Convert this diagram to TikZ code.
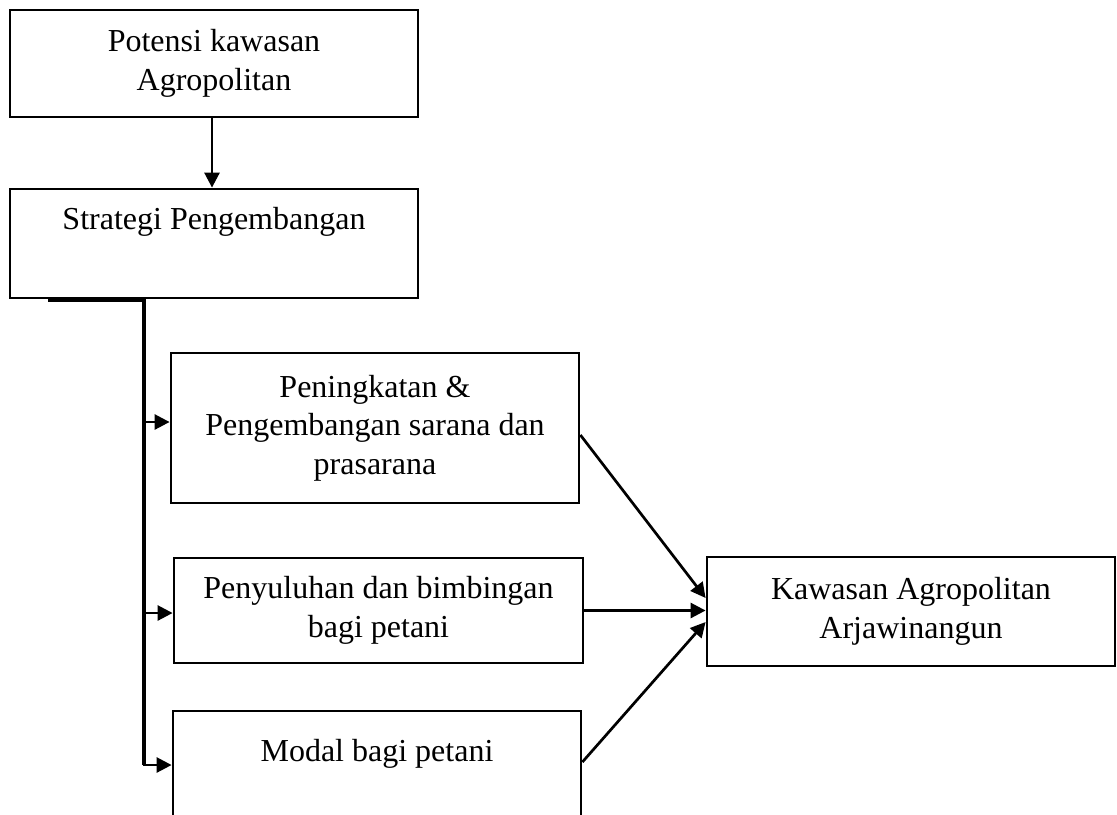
\documentclass[tikz,border=0pt]{standalone}
\usepackage{fontspec}
\setmainfont{Liberation Serif}
\usetikzlibrary{arrows.meta}
\begin{document}
\begin{tikzpicture}[x=0.5pt,y=-0.5pt,
  box/.style={draw=black,line width=1.4pt,rectangle,align=center,inner sep=0pt,
    font={\fontsize{16pt}{19.2pt}\selectfont}},
  arr/.style={line width=1.35pt,-{Triangle[length=7.5pt,width=7.5pt]}},
  trunk/.style={line width=1.9pt}]
\useasboundingbox (0,0) rectangle (1117,814);
\fill[white] (0,0) rectangle (1117,814);
\clip (0,0) rectangle (1117,814);
\node[box,minimum width=204pt,minimum height=53.5pt] (b1) at (214,63.5) {Potensi kawasan\\Agropolitan};
\node[box,minimum width=204pt,minimum height=54.5pt] (b2) at (214,243.5) {Strategi Pengembangan\\\strut};
\node[box,minimum width=204pt,minimum height=75pt] (b3) at (375,428) {Peningkatan \&\\Pengembangan sarana dan\\prasarana};
\node[box,minimum width=204.5pt,minimum height=52.5pt] (b4) at (378.5,610.5) {Penyuluhan dan bimbingan\\bagi petani};
\node[box,minimum width=204pt,minimum height=64pt] (b5) at (377,775) {Modal bagi petani\\\strut};
\node[box,minimum width=204pt,minimum height=54.5pt] (b6) at (911,611.5) {Kawasan Agropolitan\\Arjawinangun};
% top arrow
\draw[arr] ([xshift=-1pt]b1.south) -- ([xshift=-1pt]b2.north);
% trunk
\coordinate (t1) at (48,300);
\coordinate (t2) at (144,300);
\coordinate (j3) at (144,422);
\coordinate (j4) at (144,613);
\coordinate (j5) at (144,765);
\draw[trunk] (t1) -- (t2) -- (j5);
\draw[arr] (j3) -- (j3 -| b3.west);
\draw[arr] (j4) -- (j4 -| b4.west);
\draw[arr,line cap=rect] (j5) -- (j5 -| b5.west);
% to final box
\draw[arr] ([yshift=-3.5pt]b3.east) -- ([yshift=6.75pt]b6.west);
\draw[arr] (b4.east) -- (b4.east -| b6.west);
\draw[arr] ([yshift=6.5pt]b5.east) -- ([yshift=-5.25pt]b6.west);
\end{tikzpicture}
\end{document}
